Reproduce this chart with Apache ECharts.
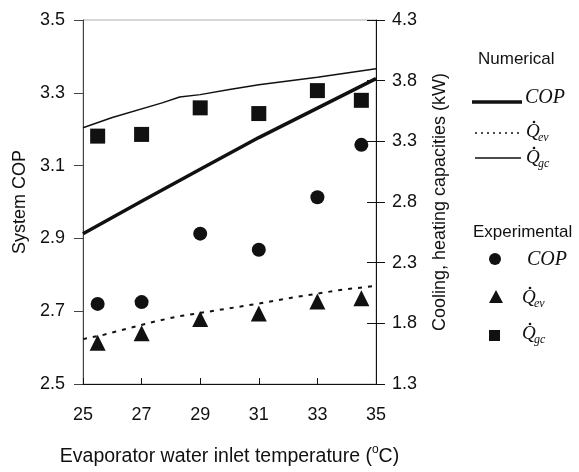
<!DOCTYPE html>
<html>
<head>
<meta charset="utf-8">
<script src="https://cdn.jsdelivr.net/npm/echarts@6/dist/echarts.min.js"></script>
<style>
html,body{margin:0;padding:0;background:#fff;}
#chart{width:579px;height:472px;}
</style>
</head>
<body>
<div id="chart"></div>
<script>
// ---- data ----
const xTicks = [25, 27, 29, 31, 33, 35];
const copTicks = [2.5, 2.7, 2.9, 3.1, 3.3, 3.5];
const capTicks = [1.3, 1.8, 2.3, 2.8, 3.3, 3.8, 4.3];

// Numerical (lines)
const copNumT = [25, 27, 29, 31, 33, 35];
const copNum  = [2.913, 3.002, 3.09, 3.177, 3.258, 3.339];
const qevNumT = [25, 25.7, 27.3, 28.2, 29.9, 31, 32.3, 33.7, 35];
const qevNum  = [1.67, 1.705, 1.806, 1.855, 1.92, 1.963, 2.018, 2.072, 2.11];
const qgcNumT = [25, 26, 27.7, 28.3, 29, 30, 31, 33, 35];
const qgcNum  = [3.412, 3.497, 3.617, 3.665, 3.685, 3.728, 3.767, 3.828, 3.898];

// Experimental (markers)
const expT   = [25.5, 27, 29, 31, 33, 34.5];
const copExp = [2.72, 2.725, 2.913, 2.869, 3.013, 3.157];
const qevExp = [1.64, 1.718, 1.835, 1.882, 1.98, 2.006];
const qgcExp = [3.343, 3.357, 3.576, 3.529, 3.718, 3.638];

const pairs = (xs, ys) => xs.map((x, i) => [x, ys[i]]);

const SANS = 'Liberation Sans, Arial, sans-serif';
const SERIF = 'Liberation Serif, Times New Roman, serif';
const INK = '#111';

const chart = echarts.init(document.getElementById('chart'));

const gridL = 83, gridR = 203, gridT = 20, gridB = 86;

function qLabel(x, y, sub) {
  // y = top of the "Q" glyph
  return [
    {type: 'text', left: x, top: y - 4, style: {text: 'Q', font: 'italic 19px ' + SERIF, fill: INK}},
    {type: 'circle', shape: {cx: x + 8, cy: y - 4, r: 1.3}, style: {fill: INK}},
    {type: 'text', left: x + 12, top: y + 6, style: {text: sub, font: 'italic 12px ' + SERIF, fill: INK}}
  ];
}

const graphics = [
  {type: 'text', left: 478, top: 51, style: {text: 'Numerical', font: '17px ' + SANS, fill: INK}},
  {type: 'line', shape: {x1: 472, y1: 102, x2: 522, y2: 102}, style: {stroke: INK, lineWidth: 3.5}},
  {type: 'text', left: 525, top: 88, style: {text: 'COP', font: 'italic 20px ' + SERIF, fill: INK}},
  {type: 'line', shape: {x1: 475, y1: 133, x2: 521, y2: 133}, style: {stroke: INK, lineWidth: 1.5, lineDash: [2, 4]}},
  {type: 'line', shape: {x1: 475, y1: 158, x2: 521, y2: 158}, style: {stroke: INK, lineWidth: 1.3}},
  {type: 'text', left: 473, top: 224, style: {text: 'Experimental', font: '17px ' + SANS, fill: INK}},
  {type: 'circle', shape: {cx: 495, cy: 259, r: 6}, style: {fill: INK}},
  {type: 'text', left: 527, top: 250, style: {text: 'COP', font: 'italic 20px ' + SERIF, fill: INK}},
  {type: 'polygon', shape: {points: [[496, 290], [503, 303], [489, 303]]}, style: {fill: INK}},
  {type: 'rect', shape: {x: 489, y: 330, width: 11, height: 11}, style: {fill: INK}}
].concat(qLabel(526, 126, 'ev'), qLabel(526, 152, 'gc'), qLabel(522, 292, 'ev'), qLabel(522, 328, 'gc'));

const option = {
  backgroundColor: '#fff',
  animation: false,
  textStyle: {fontFamily: SANS, color: INK},
  grid: {left: gridL, right: gridR, top: gridT, bottom: gridB, show: true, borderColor: '#b0b0b0', borderWidth: 1},
  xAxis: {
    type: 'value', min: 25, max: 35, interval: 2,
    name: 'Evaporator water inlet temperature ({s|o}C)',
    nameLocation: 'middle', nameGap: 60,
    nameTextStyle: {fontSize: 19.5, color: INK, fontFamily: SANS,
      rich: {s: {fontSize: 12, color: INK, fontFamily: SANS, padding: [0, 0, 14, 0]}}},
    axisLine: {show: true, lineStyle: {color: INK, width: 1}},
    axisTick: {show: true, inside: true, length: 6, lineStyle: {color: INK}},
    axisLabel: {fontSize: 18, color: INK, margin: 22, fontFamily: SANS},
    splitLine: {show: false}
  },
  yAxis: [
    {
      type: 'value', min: 2.5, max: 3.5, interval: 0.2, position: 'left',
      name: 'System COP', nameLocation: 'middle', nameGap: 52, nameRotate: 90,
      nameTextStyle: {fontSize: 18, color: INK, fontFamily: SANS},
      axisLine: {show: true, lineStyle: {color: '#444', width: 1}},
      axisTick: {show: true, inside: false, length: 9, lineStyle: {color: '#444'}},
      axisLabel: {fontSize: 18, color: INK, margin: 18, fontFamily: SANS, formatter: v => v.toFixed(1)},
      splitLine: {show: false}
    },
    {
      type: 'value', min: 1.3, max: 4.3, interval: 0.5, position: 'right',
      name: 'Cooling, heating capacities (kW)', nameLocation: 'middle', nameGap: 55, nameRotate: 90,
      nameTextStyle: {fontSize: 18, color: INK, fontFamily: SANS},
      axisLine: {show: true, lineStyle: {color: INK, width: 1}},
      axisTick: {show: true, inside: false, length: 9, lineStyle: {color: INK}},
      axisLabel: {fontSize: 18, color: INK, margin: 16, fontFamily: SANS, formatter: v => v.toFixed(1)},
      splitLine: {show: false}
    },
    {
      type: 'value', min: 1.3, max: 4.3, interval: 0.5, position: 'right',
      axisLine: {show: false},
      axisTick: {show: true, inside: true, length: 9, lineStyle: {color: INK}},
      axisLabel: {show: false},
      splitLine: {show: false}
    }
  ],
  series: [
    {name: 'COP (numerical)', type: 'line', yAxisIndex: 0, data: pairs(copNumT, copNum),
      showSymbol: false, symbol: 'none', lineStyle: {color: INK, width: 3.5}, z: 3},
    {name: 'Qev (numerical)', type: 'line', yAxisIndex: 1, data: pairs(qevNumT, qevNum),
      showSymbol: false, symbol: 'none', lineStyle: {color: INK, width: 2, type: [4, 6]}, z: 3},
    {name: 'Qgc (numerical)', type: 'line', yAxisIndex: 1, data: pairs(qgcNumT, qgcNum),
      showSymbol: false, symbol: 'none', lineStyle: {color: INK, width: 1.5}, z: 3},
    {name: 'COP (experimental)', type: 'scatter', yAxisIndex: 0, data: pairs(expT, copExp),
      symbol: 'circle', symbolSize: 14, itemStyle: {color: INK, opacity: 1}, z: 4},
    {name: 'Qev (experimental)', type: 'scatter', yAxisIndex: 1, data: pairs(expT, qevExp),
      symbol: 'triangle', symbolSize: 16, itemStyle: {color: INK, opacity: 1}, z: 4},
    {name: 'Qgc (experimental)', type: 'scatter', yAxisIndex: 1, data: pairs(expT, qgcExp),
      symbol: 'rect', symbolSize: 15, itemStyle: {color: INK, opacity: 1}, z: 4}
  ],
  graphic: graphics
};
chart.setOption(option);
</script>
</body>
</html>
